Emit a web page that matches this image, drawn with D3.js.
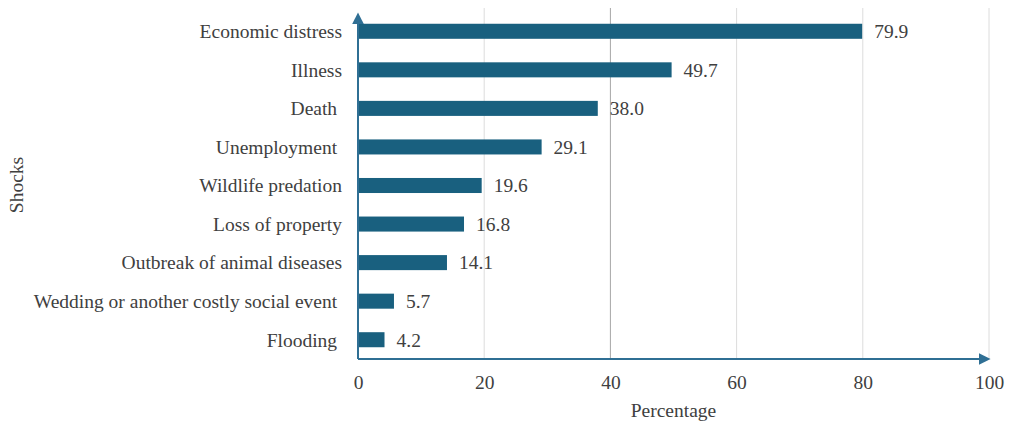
<!DOCTYPE html>
<html>
<head>
<meta charset="utf-8">
<script src="https://cdn.jsdelivr.net/npm/d3@7"></script>
<style>
  html, body { margin: 0; padding: 0; background: #fff; }
  svg text { font-family: "Liberation Serif", "Times New Roman", serif; fill: #404040; white-space: pre; }
</style>
</head>
<body>
<svg id="chart" width="1012" height="422"></svg>
<script>
// Shocks experienced by households (% reporting)
const categories = [
  "Economic distress",
  "Illness",
  "Death ",
  "Unemployment ",
  "Wildlife predation",
  "Loss of property",
  "Outbreak of animal diseases",
  "Wedding or another costly social event ",
  "Flooding "
];
const values = [79.9, 49.7, 38.0, 29.1, 19.6, 16.8, 14.1, 5.7, 4.2];
const xTicks = [0, 20, 40, 60, 80, 100];

const svg = d3.select("#chart");
const plotLeft = 358, plotRight = 989, plotTop = 12, plotBottom = 359;
const fontSize = 19.5;

const x = d3.scaleLinear().domain([0, 100]).range([plotLeft, plotRight]);
const y = d3.scaleBand().domain(categories).range([plotTop, plotBottom]).paddingInner(0.61).paddingOuter(0.305);

const barColor = "#19607f";
const axisColor = "#2f6f94";

// vertical gridlines
svg.append("g").selectAll("line")
  .data(xTicks.filter(d => d > 0))
  .join("line")
  .attr("x1", d => x(d)).attr("x2", d => x(d))
  .attr("y1", 8).attr("y2", plotBottom)
  .attr("stroke", d => d === 40 ? "#a6a6a6" : "#dcdcdc")
  .attr("stroke-width", 1);

// bars
svg.append("g").selectAll("rect")
  .data(values)
  .join("rect")
  .attr("x", x(0))
  .attr("y", (d, i) => y(categories[i]))
  .attr("width", d => x(d) - x(0))
  .attr("height", y.bandwidth())
  .attr("fill", barColor);

// value labels
svg.append("g").selectAll("text")
  .data(values)
  .join("text")
  .attr("x", d => x(d) + 12)
  .attr("y", (d, i) => y(categories[i]) + y.bandwidth() / 2)
  .attr("dy", "0.35em")
  .style("font-size", fontSize + "px")
  .text(d => d.toFixed(1));

// category labels
svg.append("g").selectAll("text")
  .data(categories)
  .join("text")
  .attr("x", plotLeft - 16)
  .attr("y", d => y(d) + y.bandwidth() / 2)
  .attr("dy", "0.35em")
  .attr("text-anchor", "end")
  .style("font-size", fontSize + "px")
  .text(d => d);

// x tick labels via axis
const xAxis = svg.append("g")
  .attr("transform", `translate(0,${plotBottom})`)
  .call(d3.axisBottom(x).tickValues(xTicks).tickSize(0).tickPadding(16));
xAxis.select(".domain").remove();
xAxis.selectAll("text")
  .style("font-size", fontSize + "px")
  .style("font-family", "Liberation Serif, serif")
  .style("fill", "#404040");

// arrow marker
const defs = svg.append("defs");
defs.append("marker")
  .attr("id", "arrow")
  .attr("viewBox", "0 0 10 10")
  .attr("refX", 2).attr("refY", 5)
  .attr("markerWidth", 6).attr("markerHeight", 6)
  .attr("markerUnits", "strokeWidth")
  .attr("orient", "auto")
  .append("path")
  .attr("d", "M0,0 L10,5 L0,10 Z")
  .attr("fill", axisColor);

// axis lines with arrowheads
svg.append("line")
  .attr("x1", plotLeft).attr("y1", plotBottom)
  .attr("x2", plotRight - 8).attr("y2", plotBottom)
  .attr("stroke", axisColor).attr("stroke-width", 2)
  .attr("marker-end", "url(#arrow)");
svg.append("line")
  .attr("x1", plotLeft).attr("y1", plotBottom)
  .attr("x2", plotLeft).attr("y2", 22)
  .attr("stroke", axisColor).attr("stroke-width", 2)
  .attr("marker-end", "url(#arrow)");

// axis titles
svg.append("text")
  .attr("x", (plotLeft + plotRight) / 2)
  .attr("y", 417)
  .attr("text-anchor", "middle")
  .style("font-size", fontSize + "px")
  .text("Percentage");
svg.append("text")
  .attr("transform", "translate(23,185) rotate(-90)")
  .attr("text-anchor", "middle")
  .style("font-size", fontSize + "px")
  .text("Shocks");
</script>
</body>
</html>
